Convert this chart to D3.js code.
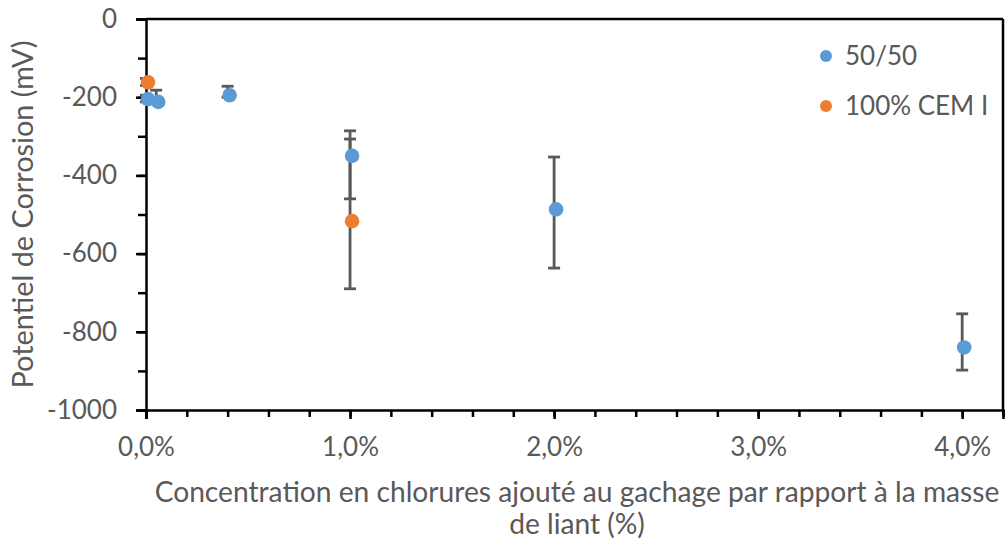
<!DOCTYPE html>
<html><head><meta charset="utf-8">
<script src="https://cdn.jsdelivr.net/npm/d3@7"></script>
<style>
body{margin:0;background:#fff;}
svg{display:block;font-family:Lato,"Open Sans",sans-serif;}
</style></head>
<body><svg id="c" width="1008" height="546"></svg>
<script>
// ---- data ----
const seriesNames = ["50/50", "100% CEM I"];
const seriesColors = ["#5B9BD5", "#ED7D31"];
const xA = [0.0, 0.05, 0.4, 1.0, 2.0, 4.0];
const yA = [-205, -212, -195, -350, -487, -840];
const hiA = [-195, -182, -172, -286, -353, -754];
const loA = [-212, -216, -200, -460, -637, -898];
const xB = [0.0, 1.0];
const yB = [-162, -517];
const hiB = [-152, -307];
const loB = [-170, -690];
const xTicks = [0, 1, 2, 3, 4];
const yTicks = [0, -200, -400, -600, -800, -1000];
const xTitle = ["Concentration en chlorures ajouté au gachage par rapport à la masse", "de liant (%)"];
const yTitle = "Potentiel de Corrosion (mV)";

const svg = d3.select("#c");
const L = 146, R = 1003, T = 19, B = 410;
const x = d3.scaleLinear().domain([0, 4.2]).range([L, R]);
const y = d3.scaleLinear().domain([-1000, 0]).range([B, T]);
const loc = d3.formatLocale({decimal: ",", thousands: " ", grouping: [3], currency: ["", "€"], minus: "-"});
const fx = v => loc.format(".1%")(v / 100);
const fy = loc.format("d");
const textCol = "#595959";
const tickFont = 26;

// plot border (top and right)
svg.append("line").attr("x1", x(0)).attr("x2", x(4.2)).attr("y1", y(0)).attr("y2", y(0)).attr("stroke", "#000").attr("stroke-width", 2.5);
svg.append("line").attr("x1", x(4.2)).attr("x2", x(4.2)).attr("y1", y(0)).attr("y2", y(-1000)).attr("stroke", "#000").attr("stroke-width", 2.5);

// x axis minor
const xMinor = d3.range(0, 4.21, 0.2);
svg.append("g").attr("transform", `translate(0,${B})`)
  .call(d3.axisBottom(x).tickValues(xMinor).tickSize(7).tickFormat(""))
  .call(g => { g.select(".domain").remove(); g.selectAll("line").attr("stroke", "#000").attr("stroke-width", 2.5); });
svg.append("g").attr("transform", `translate(0,${B})`)
  .call(d3.axisBottom(x).tickValues(xTicks).tickSize(9).tickPadding(19).tickFormat(fx))
  .call(g => {
    g.select(".domain").attr("stroke", "#000").attr("stroke-width", 2.5);
    g.selectAll("line").attr("stroke", "#000").attr("stroke-width", 2.5);
    g.selectAll("text").attr("fill", textCol).attr("font-size", tickFont).attr("font-family", "Lato");
  });

// y axis
const yMinor = d3.range(-1000, 1, 100);
svg.append("g").attr("transform", `translate(${L},0)`)
  .call(d3.axisLeft(y).tickValues(yMinor).tickSize(8).tickFormat(""))
  .call(g => { g.select(".domain").remove(); g.selectAll("line").attr("stroke", "#000").attr("stroke-width", 2.5); });
svg.append("g").attr("transform", `translate(${L},0)`)
  .call(d3.axisLeft(y).tickValues(yTicks).tickSize(10).tickPadding(19).tickFormat(fy))
  .call(g => {
    g.select(".domain").attr("stroke", "#000").attr("stroke-width", 2.5);
    g.selectAll("line").attr("stroke", "#000").attr("stroke-width", 2.5);
    g.selectAll("text").attr("fill", textCol).attr("font-size", tickFont).attr("font-family", "Lato");
  });

// error bars + points
const series = [
  {name: seriesNames[0], color: seriesColors[0], xs: xA, ys: yA, hi: hiA, lo: loA},
  {name: seriesNames[1], color: seriesColors[1], xs: xB, ys: yB, hi: hiB, lo: loB}
];
const eg = svg.append("g").attr("stroke", "#595959").attr("stroke-width", 2.8);
series.forEach(s => {
  s.xs.forEach((xv, i) => {
    const cx = x(xv);
    eg.append("line").attr("x1", cx).attr("x2", cx).attr("y1", y(s.hi[i])).attr("y2", y(s.lo[i]));
    [s.hi[i], s.lo[i]].forEach(v => eg.append("line").attr("x1", cx - 6).attr("x2", cx + 6).attr("y1", y(v)).attr("y2", y(v)));
  });
});
const mg = svg.append("g").attr("transform", "translate(2,0)");
series.forEach(s => {
  mg.append("g").selectAll("circle").data(s.xs.map((xv, i) => [xv, s.ys[i]])).join("circle")
    .attr("cx", d => x(d[0])).attr("cy", d => y(d[1])).attr("r", 7.3).attr("fill", s.color);
});

// legend
series.forEach((s, i) => {
  const ly = 56 + i * 50;
  svg.append("circle").attr("cx", 826).attr("cy", ly).attr("r", 6).attr("fill", s.color);
  svg.append("text").attr("x", 845).attr("y", ly).attr("dy", "0.35em").attr("fill", textCol)
    .attr("font-size", tickFont).attr("font-family", "Lato").text(s.name);
});

// titles
function fit(sel, target) {
  const w = sel.node().getComputedTextLength();
  const fs = parseFloat(sel.attr("font-size"));
  sel.attr("font-size", fs * target / w);
}
const t1 = svg.append("text").attr("x", 577).attr("y", 502).attr("text-anchor", "middle").attr("fill", textCol)
  .attr("font-size", 24).attr("font-family", "Lato").text(xTitle[0]);
fit(t1, 845);
svg.append("text").attr("x", 577).attr("y", 534).attr("text-anchor", "middle").attr("fill", textCol)
  .attr("font-size", t1.attr("font-size")).attr("font-family", "Lato").text(xTitle[1]);
const yt = svg.append("text").attr("transform", `translate(33,${(T + B) / 2}) rotate(-90)`).attr("text-anchor", "middle")
  .attr("fill", textCol).attr("font-size", 24).attr("font-family", "Lato").text(yTitle);
fit(yt, 348);
</script></body></html>
